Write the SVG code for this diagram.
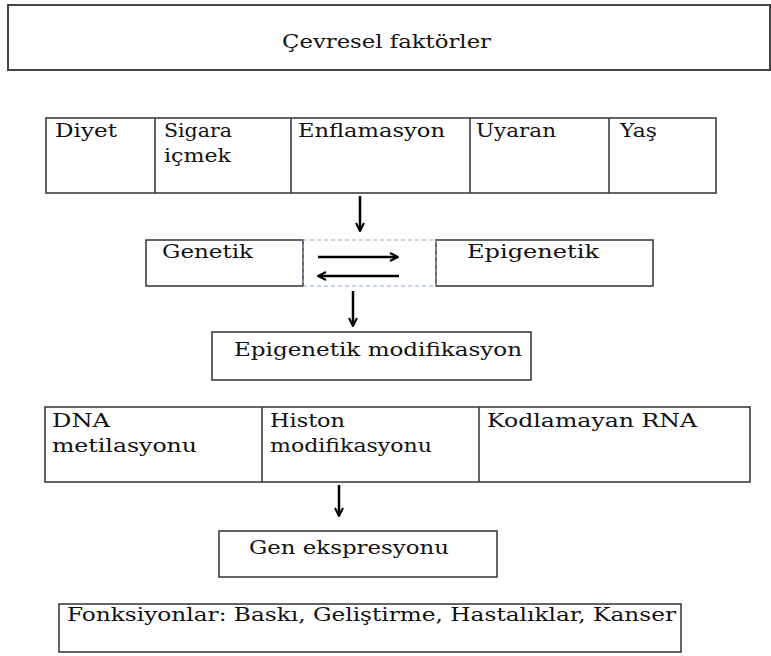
<svg xmlns="http://www.w3.org/2000/svg" width="771" height="656" viewBox="0 0 771 656">
<defs>
<style>
.box{fill:#fff;stroke:#333;stroke-width:1.5}
.ln{stroke:#333;stroke-width:1.5}
.t{font-family:"DejaVu Serif","Liberation Serif",serif;font-size:18px;fill:#111}
.dash{fill:none;stroke:#8fa9d0;stroke-width:1;stroke-dasharray:4 3}
.arr{stroke:#000;stroke-width:2.5;fill:none}
</style>
<marker id="ah" viewBox="0 0 10 10" refX="9" refY="5" markerWidth="4" markerHeight="4" orient="auto" markerUnits="strokeWidth">
<path d="M1,1 L9,5 L1,9" fill="none" stroke="#000" stroke-width="2"/>
</marker>
</defs>
<rect width="771" height="656" fill="#fff"/>
<g id="cevresel">
<rect class="box" x="8" y="5" width="762" height="65" style="stroke:#444;stroke-width:2"/>
<text class="t" x="282" y="48" textLength="209" lengthAdjust="spacingAndGlyphs">Çevresel faktörler</text>
</g>
<g id="faktorler">
<rect class="box" x="46" y="118" width="670" height="75"/>
<line class="ln" x1="155" y1="118" x2="155" y2="193"/>
<line class="ln" x1="291" y1="118" x2="291" y2="193"/>
<line class="ln" x1="470" y1="118" x2="470" y2="193"/>
<line class="ln" x1="609" y1="118" x2="609" y2="193"/>
<text class="t" x="55" y="137" textLength="62" lengthAdjust="spacingAndGlyphs">Diyet</text>
<text class="t" x="164" y="137" textLength="68" lengthAdjust="spacingAndGlyphs">Sigara</text>
<text class="t" x="164" y="162" textLength="67" lengthAdjust="spacingAndGlyphs">içmek</text>
<text class="t" x="298" y="137" textLength="147" lengthAdjust="spacingAndGlyphs">Enflamasyon</text>
<text class="t" x="476" y="137" textLength="80" lengthAdjust="spacingAndGlyphs">Uyaran</text>
<text class="t" x="620" y="137" textLength="37" lengthAdjust="spacingAndGlyphs">Yaş</text>
</g>
<g id="genetik">
<rect class="box" x="146" y="240" width="157" height="46"/>
<text class="t" x="162" y="258" textLength="91" lengthAdjust="spacingAndGlyphs">Genetik</text>
</g>
<g id="epigenetik">
<rect class="box" x="436" y="240" width="217" height="46"/>
<text class="t" x="467" y="258" textLength="132" lengthAdjust="spacingAndGlyphs">Epigenetik</text>
</g>
<g id="epimod">
<rect class="box" x="212" y="332" width="319" height="48"/>
<text class="t" x="234" y="356" textLength="288" lengthAdjust="spacingAndGlyphs">Epigenetik modifikasyon</text>
</g>
<g id="mekanizmalar">
<rect class="box" x="45" y="407" width="705" height="75"/>
<line class="ln" x1="262" y1="407" x2="262" y2="482"/>
<line class="ln" x1="479" y1="407" x2="479" y2="482"/>
<text class="t" x="52" y="427" textLength="58" lengthAdjust="spacingAndGlyphs">DNA</text>
<text class="t" x="52" y="452" textLength="145" lengthAdjust="spacingAndGlyphs">metilasyonu</text>
<text class="t" x="270" y="427" textLength="75" lengthAdjust="spacingAndGlyphs">Histon</text>
<text class="t" x="270" y="452" textLength="162" lengthAdjust="spacingAndGlyphs">modifikasyonu</text>
<text class="t" x="487" y="427" textLength="210" lengthAdjust="spacingAndGlyphs">Kodlamayan RNA</text>
</g>
<g id="genekspresyonu">
<rect class="box" x="219" y="531" width="278" height="46"/>
<text class="t" x="249" y="554" textLength="200" lengthAdjust="spacingAndGlyphs">Gen ekspresyonu</text>
</g>
<g id="fonksiyonlar">
<rect class="box" x="59" y="604" width="622" height="48"/>
<text class="t" x="67" y="621" textLength="609" lengthAdjust="spacingAndGlyphs">Fonksiyonlar: Baskı, Geliştirme, Hastalıklar, Kanser</text>
</g>
<g id="connectors">
<rect class="dash" x="303" y="240" width="133" height="46"/>
<line class="arr" x1="360" y1="196" x2="360" y2="231" marker-end="url(#ah)"/>
<line class="arr" x1="318" y1="257" x2="398" y2="257" marker-end="url(#ah)"/>
<line class="arr" x1="399" y1="276" x2="318" y2="276" marker-end="url(#ah)"/>
<line class="arr" x1="353" y1="291" x2="353" y2="326" marker-end="url(#ah)"/>
<line class="arr" x1="339" y1="485" x2="339" y2="516" marker-end="url(#ah)"/>
</g>
</svg>
